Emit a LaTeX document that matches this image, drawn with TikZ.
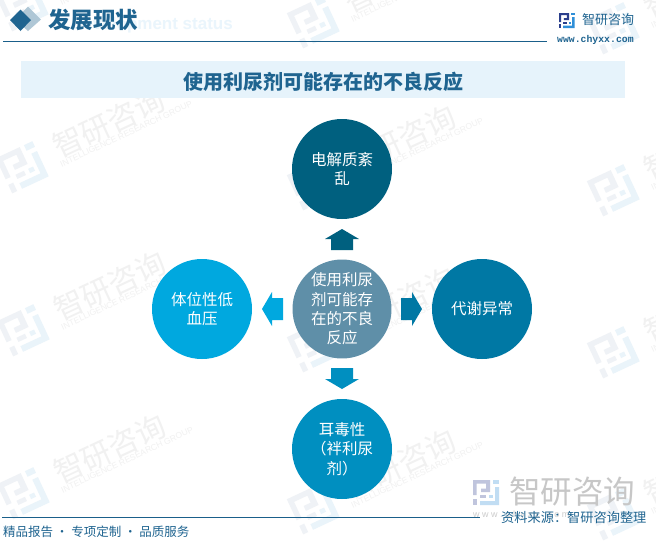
\documentclass[tikz,border=0pt]{standalone}
\usepackage{fontspec}
\setmainfont{Noto Sans CJK SC}
\newfontfamily\latinb{Liberation Sans}
\newfontfamily\webf{Liberation Mono}
\definecolor{hdr}{HTML}{1A5F8A}
\definecolor{band}{HTML}{E6F3FB}
\definecolor{ttl}{HTML}{1F6490}
\definecolor{cTop}{HTML}{00607F}
\definecolor{cRight}{HTML}{0078A4}
\definecolor{cBottom}{HTML}{008FC0}
\definecolor{cLeft}{HTML}{00A8DF}
\definecolor{cMid}{HTML}{5F8FA8}
\definecolor{wmark}{HTML}{EFF2F6}
\definecolor{wmarkb}{HTML}{EAF4FA}
\definecolor{wtext}{HTML}{F1F1F1}
\definecolor{logoA}{HTML}{2B3F8C}
\definecolor{logoB}{HTML}{2F8FD8}
\tikzset{
  x=1pt,y=-1pt,
  bubble/.style={circle,minimum size=100pt,inner sep=0pt,align=center,text=white,font=\fontsize{15.5}{19.3}\selectfont,text width=68pt},
  flowarrow/.style={fill=#1,draw=none},
  lbl/.style={inner sep=0pt,anchor=center}
}
% logo in a 26x25 box, origin top-left
\newcommand{\logomark}[2]{%
  \fill[#1] (0,0)--(17,0)--(17,12)--(8,12)--(8,8.5)--(13,8.5)--(13,3.5)--(3.5,3.5)--(3.5,15)--(0,15)--cycle;
  \fill[#1] (0,19)--(3.5,19)--(3.5,25)--(0,25)--cycle;
  \fill[#1] (7,15)--(13,15)--(13,18)--(7,18)--cycle;
  \fill[#2] (20,0)--(26,0)--(26,4)--(20,4)--cycle;
  \fill[#2] (22,7)--(26,7)--(26,25)--(7,25)--(7,21)--(22,21)--cycle;
  \fill[#2] (16,15)--(19.5,15)--(19.5,18)--(16,18)--cycle;
}
\newcommand{\wm}[2]{%
  \begin{scope}[shift={(#1,#2)},rotate=25]
    \begin{scope}[shift={(-20,-19)},scale=1.55]\logomark{wmark}{wmarkb}\end{scope}
    \node[lbl,anchor=west,transform shape,text=wtext,font=\fontsize{30}{30}\selectfont] (w#1#2) at (37,-3) {智研咨询};
    \node[lbl,anchor=west,transform shape,text=wtext,font=\latinb\fontsize{8.5}{8.5}\selectfont] (x#1#2) at (36,14) {INTELLIGENCE RESEARCH GROUP};
  \end{scope}}
\newcommand{\flowarr}[4]{% x,y of base centre, rotation, colour
  \fill[flowarrow=#4,shift={(#1,#2)},rotate=#3] (0,-11)--(11,-11)--(11,-17)--(21,0)--(11,17)--(11,11)--(0,11)--cycle;}
\begin{document}
\begin{tikzpicture}
\useasboundingbox (0,0) rectangle (656,542);
\fill[white] (0,0) rectangle (656,542);
% watermarks
\wm{22}{5}\wm{313}{22}\wm{613}{28}
\wm{22}{167}\wm{313}{184}\wm{613}{190}
\wm{23}{330}\wm{313}{346}\wm{613}{352}
\wm{23}{493}\wm{313}{508}\wm{613}{514}
% header
\node[lbl,anchor=east,text=band!85!white,font=\latinb\bfseries\fontsize{17}{17}\selectfont] (entitle) at (233,25) {Development status};
\fill[hdr!35!white] (28,6.5)--(41,19.5)--(28,31)--(15,19.5)--cycle;
\fill[ttl] (20.5,9.5)--(31,20)--(20.5,31)--(10,20)--cycle;
\node[lbl,anchor=west,text=ttl,font=\bfseries\fontsize{22.5}{22.5}\selectfont] (hd) at (48,20) {发展现状};
\draw[hdr,line width=0.9pt] (3,41) -- (547,41);
\begin{scope}[shift={(559,13)},scale=0.6]\logomark{logoA}{logoB}\end{scope}
\node[lbl,anchor=west,text=ttl,font=\fontsize{13}{13}\selectfont] (brand) at (582,20) {智研咨询};
\node[lbl,anchor=west,text=ttl,font=\webf\bfseries\fontsize{9.8}{9.8}\selectfont] (web) at (557,40) {www.chyxx.com};
% title band
\fill[band] (21,61) rectangle (625,98);
\node[lbl,text=ttl,font=\bfseries\fontsize{20}{20}\selectfont] (title) at (323.5,82) {使用利尿剂可能存在的不良反应};
% bubbles
\node[bubble,fill=cTop] (top) at (342,169) {电解质紊\\乱};
\node[bubble,fill=cRight] (right) at (482,309) {代谢异常};
\node[bubble,fill=cBottom] (bottom) at (342,449) {耳毒性\\（袢利尿\\剂）};
\node[bubble,fill=cLeft] (left) at (202,309) {体位性低\\血压};
\node[bubble,fill=cMid,minimum size=98pt] (mid) at (342,309) {使用利尿\\剂可能存\\在的不良\\反应};
% arrows
\flowarr{342}{250}{90}{cTop}
\flowarr{401}{309}{0}{cRight}
\flowarr{342}{368}{-90}{cBottom}
\flowarr{283}{309}{180}{cLeft}
% bottom-right brand
\begin{scope}[shift={(473,480)}]\logomark{logoA!30!white}{logoB!30!white}\end{scope}
\node[lbl,anchor=west,text=black!22,font=\fontsize{31.5}{31.5}\selectfont] (bigbrand) at (509,492) {智研咨询};
\node[lbl,anchor=west,text=black!20,font=\latinb\fontsize{9}{9}\selectfont] (bigweb) at (473,515) {w w w . c h y x x . c o m};
% footer
\draw[hdr,line width=0.9pt] (2,517) -- (480,517);
\node[lbl,anchor=west,text=ttl,font=\fontsize{13.2}{13.2}\selectfont] (src) at (501,518) {资料来源：智研咨询整理};
\node[lbl,anchor=west,text=ttl,font=\fontsize{12.5}{12.5}\selectfont] (foot) at (3,532) {精品报告 · 专项定制 · 品质服务};
\end{tikzpicture}
\end{document}
